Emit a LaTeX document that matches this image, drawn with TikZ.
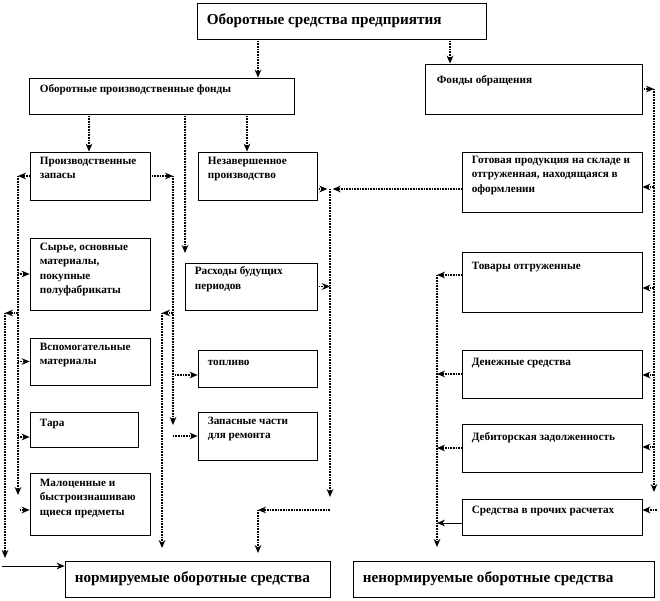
\documentclass[tikz,border=0pt]{standalone}
\usepackage{fontspec}
\setmainfont{Liberation Serif}
\usetikzlibrary{arrows.meta,fit}
\tikzset{
  every node/.style={font=\bfseries},
  box/.style={draw=black, line width=0.6pt, inner sep=0pt},
  txt/.style={anchor=north west, inner sep=0pt, align=left, font=\bfseries\fontsize{8.4}{10.8}\selectfont},
  big/.style={anchor=west, inner sep=0pt, font=\bfseries\fontsize{11.4}{13}\selectfont},
  flow/.style={-{Stealth[length=6pt,width=5pt]}, dash pattern=on 0.6pt off 0.6pt, line width=1pt},
  plainflow/.style={-{Stealth[length=6pt,width=5pt]}, line width=0.6pt},
}

\begin{document}
\begin{tikzpicture}[x=0.75pt, y=-0.75pt]
  \useasboundingbox (0,0) rectangle (660,600);
  % Boxes
  \node[box, fit={(197,3) (486,39)}] (main) {};
  \node[box, fit={(29,78) (294,114)}] (opf) {};
  \node[box, fit={(425,64) (642,114)}] (fo) {};
  \node[box, fit={(30,152) (150,200)}] (pz) {};
  \node[box, fit={(198,152) (317,200)}] (np) {};
  \node[box, fit={(462,152) (642,212)}] (gp) {};
  \node[box, fit={(30,238) (150,310)}] (syr) {};
  \node[box, fit={(185,263) (317,310)}] (rbp) {};
  \node[box, fit={(462,252) (642,312)}] (tov) {};
  \node[box, fit={(30,338) (150,385)}] (vsp) {};
  \node[box, fit={(198,350) (317,387)}] (fuel) {};
  \node[box, fit={(462,350) (642,398)}] (den) {};
  \node[box, fit={(30,412) (138,447)}] (tara) {};
  \node[box, fit={(198,412) (317,460)}] (zap) {};
  \node[box, fit={(462,424) (642,472)}] (deb) {};
  \node[box, fit={(30,473) (150,535)}] (mal) {};
  \node[box, fit={(462,499) (642,535)}] (proch) {};
  \node[box, fit={(65,561) (330,597)}] (nor) {};
  \node[box, fit={(353,561) (654,597)}] (nenor) {};
  % Texts
  \node[big] (mainT) at ([xshift=7.5pt]main.west) {Оборотные средства предприятия};
  \node[txt] (opfT) at ([shift={(11,7)}]opf.north west) {Оборотные производственные фонды};
  \node[txt] (foT) at ([shift={(12,12)}]fo.north west) {Фонды обращения};
  \node[txt] (pzT) at ([shift={(10,5)}]pz.north west) {Производственные\\запасы};
  \node[txt] (npT) at ([shift={(10,5)}]np.north west) {Незавершенное\\производство};
  \node[txt] (gpT) at ([shift={(10,4)}]gp.north west) {Готовая продукция на складе и\\отгруженная, находящаяся в\\оформлении};
  \node[txt] (syrT) at ([shift={(10,5)}]syr.north west) {Сырье, основные\\материалы,\\покупные\\полуфабрикаты};
  \node[txt] (rbpT) at ([shift={(10,4)}]rbp.north west) {Расходы будущих\\периодов};
  \node[txt] (tovT) at ([shift={(10,10)}]tov.north west) {Товары отгруженные};
  \node[txt] (vspT) at ([shift={(10,5)}]vsp.north west) {Вспомогательные\\материалы};
  \node[txt] (fuelT) at ([shift={(10,10)}]fuel.north west) {топливо};
  \node[txt] (denT) at ([shift={(10,8)}]den.north west) {Денежные средства};
  \node[txt] (taraT) at ([shift={(10,7)}]tara.north west) {Тара};
  \node[txt] (zapT) at ([shift={(10,5)}]zap.north west) {Запасные части\\для ремонта};
  \node[txt] (debT) at ([shift={(10,9)}]deb.north west) {Дебиторская задолженность};
  \node[txt] (malT) at ([shift={(10,6)}]mal.north west) {Малоценные и\\быстроизнашиваю\\щиеся предметы};
  \node[txt] (prochT) at ([shift={(10,7)}]proch.north west) {Средства в прочих расчетах};
  \node[big] (norT) at ([xshift=7.5pt]nor.west) {нормируемые оборотные средства};
  \node[big] (nenorT) at ([xshift=7.5pt]nenor.west) {ненормируемые оборотные средства};
  % Bus points
  \coordinate (xa) at (258,0);
  \coordinate (xb) at (450,0);
  \coordinate (xc) at (89,0);
  \coordinate (xd) at (185,253);
  \coordinate (xe) at (247,0);
  \coordinate (aEnd) at (18,495);
  \coordinate (aTara) at (18,437);
  \coordinate (aMal) at (20,510);
  \coordinate (oTop) at (5,313);
  \coordinate (oEnd) at (5,558);
  \coordinate (oIn) at (2,566);
  \coordinate (bEnd) at (173,425);
  \coordinate (bFuel) at (175,375);
  \coordinate (bZap) at (173,436);
  \coordinate (cTop) at (162,313);
  \coordinate (cEnd) at (162,548);
  \coordinate (mTop) at (330,189);
  \coordinate (mEnd) at (330,497);
  \coordinate (nTop) at (258,510);
  \coordinate (nEnd) at (258,553);
  \coordinate (rTop) at (437,275);
  \coordinate (rEnd) at (437,547);
  \coordinate (rPr) at (437,523);
  \coordinate (eTop) at (654,89);
  \coordinate (eEnd) at (654,492);
  \coordinate (eGp) at (654,187);
  \coordinate (eTov) at (654,288);
  \coordinate (eDen) at (654,375);
  \coordinate (eDeb) at (654,447);
  \coordinate (ePr) at (657,510);
  % Top level
  \draw[flow] (main.south -| xa) -- (opf.north -| xa);
  \draw[flow] (main.south -| xb) -- (fo.north -| xb);
  \draw[flow] (opf.south -| xc) -- (pz.north -| xc);
  \draw[flow] (opf.south -| xd) -- (xd);
  \draw[flow] (opf.south -| xe) -- (np.north -| xe);
  % Left buses
  \draw[flow] (pz.west) -- (pz.west -| aEnd);
  \draw[flow] (pz.west -| aEnd) -- (aEnd);
  \foreach \b in {syr,vsp} \draw[flow] (\b.west -| aEnd) -- (\b.west);
  \draw[flow] (aTara) -- (tara.west |- aTara);
  \draw[flow] (aMal) -- (mal.west |- aMal);
  \draw[flow] (aEnd |- oTop) -- (oTop);
  \draw[flow] (oTop) -- (oEnd);
  \draw[plainflow] (oIn) -- (nor.west |- oIn);
  \draw[flow] (pz.east) -- (pz.east -| bEnd);
  \draw[flow] (pz.east -| bEnd) -- (bEnd);
  \draw[flow] (bFuel) -- (fuel.west |- bFuel);
  \draw[flow] (bZap) -- (zap.west |- bZap);
  \draw[flow] (bEnd |- cTop) -- (cTop);
  \draw[flow] (cTop) -- (cEnd);
  % Middle bus
  \draw[flow, shorten >=2pt] (np.east |- mTop) -- (mTop);
  \draw[flow, shorten >=2pt] (gp.west |- mTop) -- (mTop);
  \draw[flow] (mTop) -- (mEnd);
  \draw[flow] (rbp.east) -- (rbp.east -| mTop);
  \draw[flow] (mEnd |- nTop) -- (nTop);
  \draw[flow] (nTop) -- (nEnd);
  % Right buses
  \draw[flow] (tov.west |- rTop) -- (rTop);
  \draw[flow] (rTop) -- (rEnd);
  \foreach \b in {den,deb} \draw[flow] (\b.west) -- (\b.west -| rTop);
  \draw[plainflow] (proch.west |- rPr) -- (rPr);
  \draw[flow] (fo.east |- eTop) -- (eTop);
  \draw[flow] (eTop) -- (eEnd);
  \draw[flow] (eGp) -- (gp.east |- eGp);
  \draw[flow] (eTov) -- (tov.east |- eTov);
  \draw[flow] (eDen) -- (den.east |- eDen);
  \draw[flow] (eDeb) -- (deb.east |- eDeb);
  \draw[flow] (ePr) -- (proch.east |- ePr);
\end{tikzpicture}
\end{document}
